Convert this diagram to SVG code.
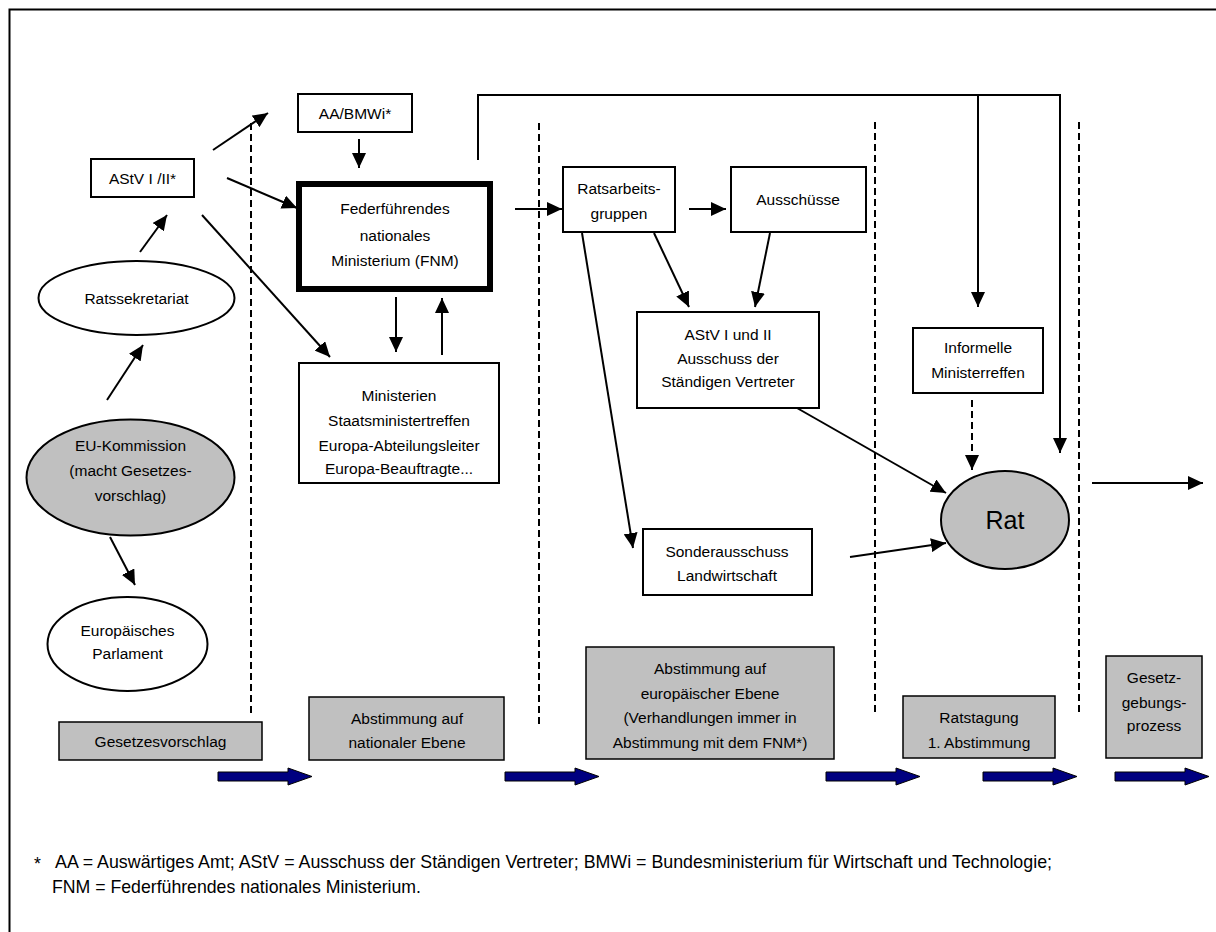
<svg xmlns="http://www.w3.org/2000/svg" width="1216" height="932" viewBox="0 0 1216 932">
<defs>
<style>
text{font-family:"Liberation Sans",Arial,sans-serif;font-size:15.5px;fill:#000;text-anchor:middle}
.box{fill:#fff;stroke:#000;stroke-width:2}
.grey{fill:#c0c0c0;stroke:#000;stroke-width:1.5}
.ell{fill:#fff;stroke:#000;stroke-width:2}
.con{fill:none;stroke:#000;stroke-width:2}
.arr{marker-end:url(#ah)}
.dash{fill:none;stroke:#000;stroke-width:2;stroke-dasharray:7,4}
.blue{fill:#000080;stroke:#000;stroke-width:1}
.foot{text-anchor:start;font-size:17.7px}
</style>
<marker id="ah" markerUnits="userSpaceOnUse" markerWidth="15" markerHeight="14" refX="15" refY="7" orient="auto" viewBox="0 0 15 14">
<path d="M0,0 L15,7 L0,14 Z" fill="#000"/>
</marker>
<path id="bluearrow" d="M0,-4.5 L70,-4.5 L70,-8.5 L94,0 L70,8.5 L70,4.5 L0,4.5 Z"/>
</defs>
<rect x="9.5" y="9.5" width="1220" height="940" fill="#fff" stroke="#000" stroke-width="2"/>

<g id="phase-lines">
<line class="dash" x1="251" y1="123" x2="251" y2="713"/>
<line class="dash" x1="539" y1="123" x2="539" y2="727"/>
<line class="dash" x1="875" y1="122" x2="875" y2="713"/>
<line class="dash" x1="1079" y1="122" x2="1079" y2="713"/>
</g>

<g id="connectors">
<line class="con arr" x1="213" y1="150" x2="268" y2="113"/>
<line class="con arr" x1="227" y1="178" x2="297" y2="208"/>
<line class="con arr" x1="202" y1="215" x2="330" y2="357"/>
<line class="con arr" x1="140" y1="252" x2="167" y2="215"/>
<line class="con arr" x1="107" y1="400" x2="143" y2="345"/>
<line class="con arr" x1="110" y1="537" x2="135" y2="585"/>
<line class="con arr" x1="359" y1="139" x2="359" y2="168"/>
<line class="con arr" x1="396" y1="297" x2="396" y2="352"/>
<line class="con arr" x1="442" y1="355" x2="442" y2="298"/>
<line class="con arr" x1="515" y1="209" x2="562" y2="209"/>
<line class="con arr" x1="689" y1="209" x2="726" y2="209"/>
<line class="con arr" x1="654" y1="233" x2="689" y2="307"/>
<line class="con arr" x1="770" y1="233" x2="755" y2="307"/>
<line class="con arr" x1="582" y1="233" x2="633" y2="548"/>
<line class="con arr" x1="797" y1="408" x2="946" y2="493"/>
<line class="con arr" x1="850" y1="557" x2="946" y2="543"/>
<polyline class="con arr" points="478,160 478,95 1060,95 1060,453"/>
<line class="con arr" x1="978" y1="95" x2="978" y2="307"/>
<line class="dash arr" x1="972" y1="400" x2="972" y2="470"/>
<line class="con arr" x1="1092" y1="483" x2="1203" y2="483"/>
</g>

<g id="flow-arrows">
<use href="#bluearrow" class="blue" transform="translate(218,776.5)"/>
<use href="#bluearrow" class="blue" transform="translate(505,776.5)"/>
<use href="#bluearrow" class="blue" transform="translate(826,776.5)"/>
<use href="#bluearrow" class="blue" transform="translate(983,776.5)"/>
<use href="#bluearrow" class="blue" transform="translate(1115,776.5)"/>
</g>

<g id="astv-i-ii">
<rect class="box" x="91" y="159" width="103" height="38"/>
<text x="142.5" y="184">AStV I /II*</text>
</g>

<g id="ratssekretariat">
<ellipse class="ell" cx="136.5" cy="298" rx="98" ry="37"/>
<text x="136.5" y="304">Ratssekretariat</text>
</g>

<g id="eu-kommission">
<ellipse cx="130.5" cy="477.5" rx="104" ry="58" fill="#c0c0c0" stroke="#000" stroke-width="2"/>
<text x="130.5" y="451">EU-Kommission</text>
<text x="130.5" y="476">(macht Gesetzes-</text>
<text x="130.5" y="501">vorschlag)</text>
</g>

<g id="europaeisches-parlament">
<ellipse class="ell" cx="127.5" cy="644" rx="80" ry="47"/>
<text x="127.5" y="636">Europäisches</text>
<text x="127.5" y="659">Parlament</text>
</g>

<g id="aa-bmwi">
<rect class="box" x="298" y="94" width="114" height="38"/>
<text x="355" y="119">AA/BMWi*</text>
</g>

<g id="fnm">
<rect x="299" y="184" width="191" height="105" fill="#fff" stroke="#000" stroke-width="6"/>
<text x="395" y="214">Federführendes</text>
<text x="395" y="241">nationales</text>
<text x="395" y="266">Ministerium (FNM)</text>
</g>

<g id="ministerien">
<rect class="box" x="299" y="363" width="200" height="120"/>
<text x="399" y="401">Ministerien</text>
<text x="399" y="426">Staatsministertreffen</text>
<text x="399" y="451">Europa-Abteilungsleiter</text>
<text x="399" y="474">Europa-Beauftragte...</text>
</g>

<g id="ratsarbeitsgruppen">
<rect class="box" x="563" y="167" width="112" height="65"/>
<text x="619" y="194">Ratsarbeits-</text>
<text x="619" y="219">gruppen</text>
</g>

<g id="ausschuesse">
<rect class="box" x="731" y="167" width="135" height="65"/>
<text x="798" y="205">Ausschüsse</text>
</g>

<g id="astv-i-und-ii">
<rect class="box" x="637" y="312" width="182" height="96"/>
<text x="728" y="340">AStV I und II</text>
<text x="728" y="364">Ausschuss der</text>
<text x="728" y="387">Ständigen Vertreter</text>
</g>

<g id="sonderausschuss">
<rect class="box" x="643" y="529" width="169" height="66"/>
<text x="727" y="557">Sonderausschuss</text>
<text x="727" y="581">Landwirtschaft</text>
</g>

<g id="informelle">
<rect class="box" x="913" y="328" width="130" height="65"/>
<text x="978" y="353">Informelle</text>
<text x="978" y="378">Ministerreffen</text>
</g>

<g id="rat">
<ellipse cx="1005" cy="520" rx="64" ry="49" fill="#c0c0c0" stroke="#000" stroke-width="2"/>
<text x="1005" y="529" style="font-size:25px">Rat</text>
</g>

<g id="gesetzesvorschlag">
<rect class="grey" x="59" y="722" width="203" height="38"/>
<text x="160.5" y="747">Gesetzesvorschlag</text>
</g>

<g id="abstimmung-national">
<rect class="grey" x="309" y="697" width="195" height="63"/>
<text x="407" y="724">Abstimmung auf</text>
<text x="407" y="748">nationaler Ebene</text>
</g>

<g id="abstimmung-europa">
<rect class="grey" x="586" y="647" width="248" height="112"/>
<text x="710" y="674">Abstimmung auf</text>
<text x="710" y="699">europäischer Ebene</text>
<text x="710" y="723">(Verhandlungen immer in</text>
<text x="710" y="748">Abstimmung mit dem FNM*)</text>
</g>

<g id="ratstagung">
<rect class="grey" x="903" y="696" width="152" height="62"/>
<text x="979" y="723">Ratstagung</text>
<text x="979" y="748">1. Abstimmung</text>
</g>

<g id="gesetzgebungsprozess">
<rect class="grey" x="1106" y="656" width="96" height="102"/>
<text x="1154" y="683">Gesetz-</text>
<text x="1154" y="708">gebungs-</text>
<text x="1154" y="731">prozess</text>
</g>

<g id="footnote">
<text x="34" y="870" class="foot">*</text>
<text x="55" y="868" class="foot" textLength="997" lengthAdjust="spacingAndGlyphs">AA = Auswärtiges Amt; AStV = Ausschuss der Ständigen Vertreter; BMWi = Bundesministerium für Wirtschaft und Technologie;</text>
<text x="52" y="893" class="foot" textLength="369" lengthAdjust="spacingAndGlyphs">FNM = Federführendes nationales Ministerium.</text>
</g>
</svg>
